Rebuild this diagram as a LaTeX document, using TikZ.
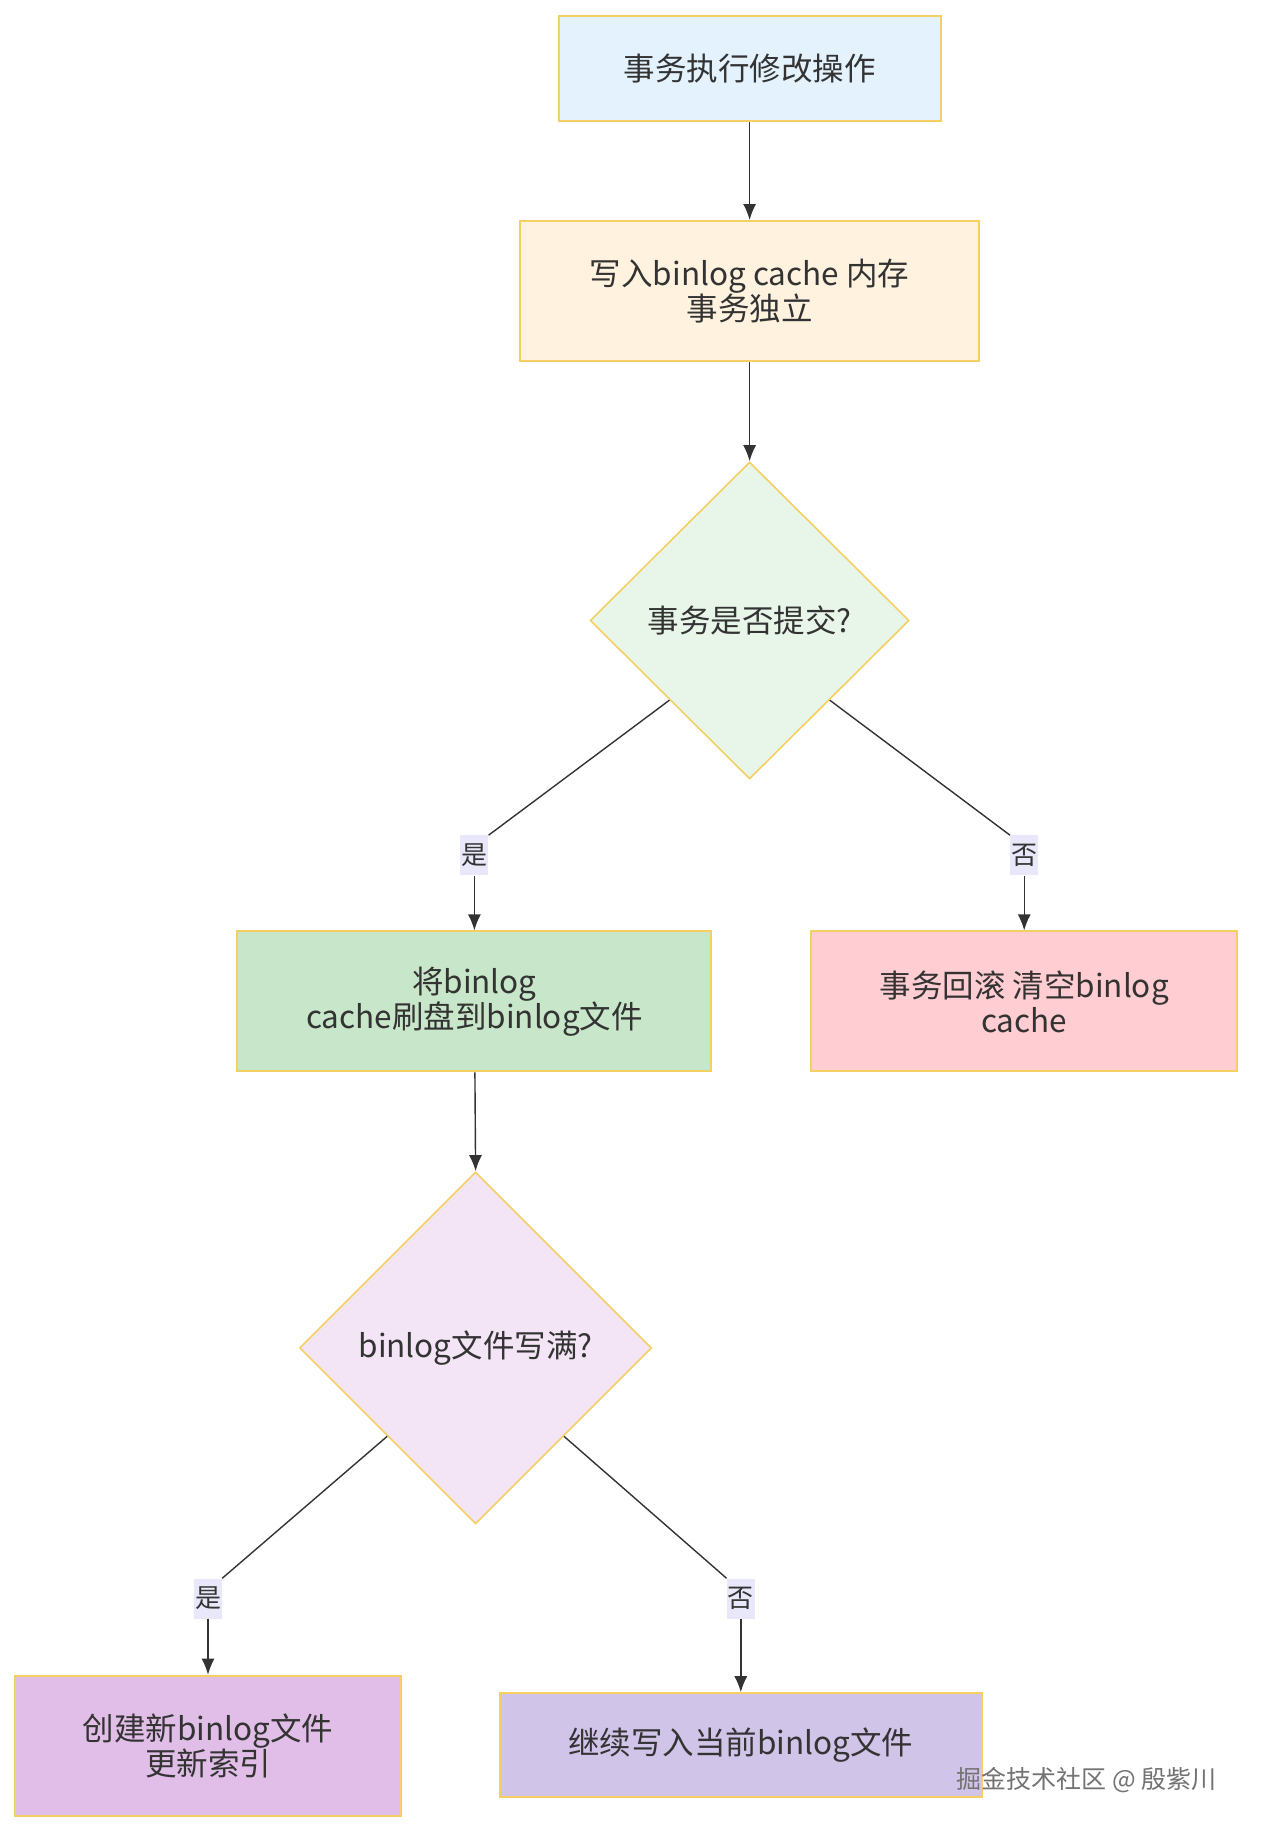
\documentclass[tikz,border=0pt]{standalone}
\usepackage{fontspec}
\setmainfont{Noto Sans CJK SC}
\usepackage{tikz}
\usetikzlibrary{arrows.meta, shapes.geometric}

\definecolor{boxborder}{HTML}{F5CF62}
\definecolor{textgray}{HTML}{333333}
\definecolor{linegray}{HTML}{333333}
\definecolor{labelfill}{HTML}{E8E8FA}
\definecolor{fillA}{HTML}{E3F2FD}
\definecolor{fillB}{HTML}{FFF3E0}
\definecolor{fillC}{HTML}{E8F5E9}
\definecolor{fillD}{HTML}{C8E6C9}
\definecolor{fillE}{HTML}{FFCDD2}
\definecolor{fillF}{HTML}{F3E5F5}
\definecolor{fillG}{HTML}{E1BEE7}
\definecolor{fillH}{HTML}{D1C4E9}

\begin{document}
\begin{tikzpicture}[x=1pt, y=-1pt,
  box/.style={rectangle, draw=boxborder, line width=2pt, align=center, inner sep=0pt,
    text=textgray, font=\fontsize{31.5}{35}\selectfont},
  decision/.style={diamond, shape aspect=1, draw=boxborder, line width=1.6pt, align=center,
    inner sep=0pt, text=textgray, font=\fontsize{31.5}{35}\selectfont},
  edgelabel/.style={rectangle, fill=labelfill, minimum width=28pt, minimum height=40pt,
    inner sep=0pt, text=textgray, font=\fontsize{26}{26}\selectfont},
  flow/.style={draw=linegray, line width=1.4pt},
  flowarrow/.style={flow, -{Latex[length=16pt, width=13pt]}}
]
% Page size of the reference
\useasboundingbox (0,0) rectangle (1262,1842);

% Row heights and column positions
\pgfmathsetmacro{\midX}{749.6}
\pgfmathsetmacro{\leftX}{474.4}
\pgfmathsetmacro{\rightX}{1024.2}
\pgfmathsetmacro{\rowH}{140}

% Boxes and decisions
\node[box, fill=fillA, minimum width=382pt, minimum height=105pt] (exec) at (\midX,68.9) {事务执行修改操作};
\node[box, fill=fillB, minimum width=459pt, minimum height=\rowH pt] (cache) at (\midX,291) {写入binlog cache 内存\\事务独立};
\node[decision, fill=fillC, minimum width=319pt, minimum height=317pt] (commit) at (\midX,620.5) {事务是否提交?};
\node[box, fill=fillD, minimum width=474pt, minimum height=\rowH pt] (flush) at (\leftX,1001.4) {将binlog\\cache刷盘到binlog文件};
\node[box, fill=fillE, minimum width=426.5pt, minimum height=\rowH pt] (rollback) at (\rightX,1001.4) {事务回滚 清空binlog\\cache};
\node[decision, fill=fillF, minimum width=352pt, minimum height=352pt] (full) at (475.6,1347.9) {binlog文件写满?};
\node[box, fill=fillG, minimum width=385.6pt, minimum height=\rowH pt] (newfile) at (208,1745.7) {创建新binlog文件\\更新索引};
\node[box, fill=fillH, minimum width=481.4pt, minimum height=104pt] (keepon) at (740.8,1745.2) {继续写入当前binlog文件};

% Edge labels
\node[edgelabel] (yesA) at (\leftX,855.4) {是};
\node[edgelabel] (noA) at (\rightX,855.4) {否};
\node[edgelabel] (yesB) at (208,1598.5) {是};
\node[edgelabel] (noB) at (740.8,1598.5) {否};

% Connectors
\draw[flowarrow] (exec) -- (cache);
\draw[flowarrow] (cache) -- (commit.north);
\draw[flow] (commit.south west) -- (yesA.north east);
\draw[flowarrow] (yesA) -- (flush);
\draw[flow] (commit.south east) -- (noA.north west);
\draw[flowarrow] (noA) -- (rollback);
\draw[flowarrow] (flush) -- (full.north);
\draw[flow] (full.south west) -- (yesB.north east);
\draw[flowarrow] (yesB) -- (newfile);
\draw[flow] (full.south east) -- (noB.north west);
\draw[flowarrow] (noB) -- (keepon);

% Watermark
\node[text=black!55, font=\fontsize{25}{25}\selectfont] (mark) at (1086.7,1779.6) {掘金技术社区 @ 殷紫川};
\end{tikzpicture}
\end{document}
